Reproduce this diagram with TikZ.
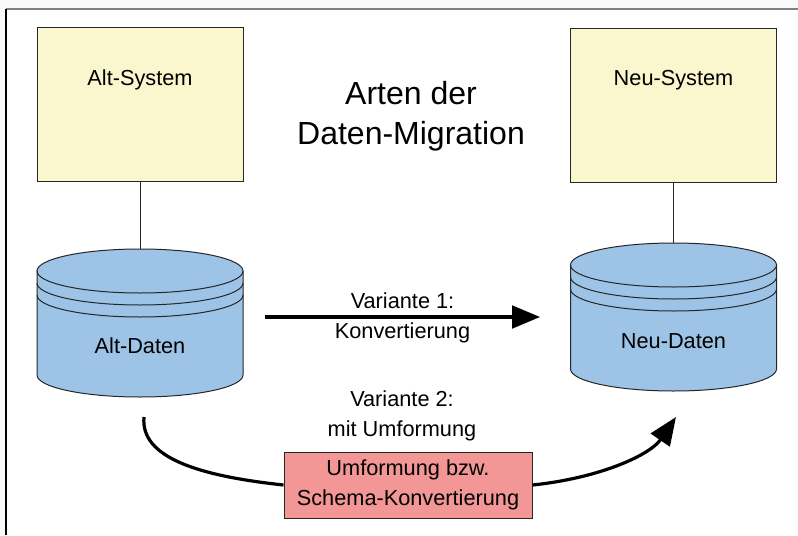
\documentclass[tikz,border=0pt]{standalone}
\usepackage{fontspec}
\setmainfont{Liberation Sans}
\usetikzlibrary{arrows.meta}

\definecolor{systemgelb}{RGB}{250,247,206}
\definecolor{datenblau}{RGB}{157,195,230}
\definecolor{umformrot}{RGB}{243,150,150}
\definecolor{randgrau}{RGB}{248,249,249}

\begin{document}
\begin{tikzpicture}[x=0.75pt, y=-0.75pt,
      every node/.style={align=center, font=\fontsize{16.3}{22.5}\selectfont},
      system/.style={shape=rectangle, draw=black!85, fill=systemgelb, line width=0.75pt,
        inner sep=0pt, minimum width=154.5pt, minimum height=114.75pt},
      umform/.style={shape=rectangle, draw=black!85, fill=umformrot, line width=0.75pt,
        inner sep=0pt, minimum width=186pt, minimum height=49.5pt},
      linie/.style={line width=0.75pt, draw=black!85},
      pfeil/.style={line width=2.4pt, -{Triangle[length=21pt, width=17pt]}},
      datenbank/.pic={
        \fill[datenblau] (-103,0) -- (-103,104) arc (180:0:103 and 22) -- (103,0) arc (0:-180:103 and 22) -- cycle;
        \draw[linie] (-103,0) -- (-103,104) arc (180:0:103 and 22) -- (103,0);
        \draw[linie] (0,0) ellipse (103 and 22);
        \draw[linie] (-103,12) arc (180:0:103 and 22);
        \draw[linie] (-103,24) arc (180:0:103 and 22);
        \coordinate (-oben) at (0,-22);
      }]
  \useasboundingbox (0,0) rectangle (798,535);
  % Rahmen
  \fill[randgrau] (0,0) rectangle (798,535);
  \fill[white] (6,9) rectangle (798,535);
  \draw[gray, line width=1.2pt] (6,9) -- (798,9);
  \draw[black, line width=0.9pt] (6,9) -- (6,535);

  \node[font=\fontsize{24}{30}\selectfont] (titel) at (411,116) {Arten der\\Daten-Migration};

  % Systeme
  \node[system] (altsys) at (140,104.5) {};
  \node (alttext) at (140,80) {Alt-System};
  \node[system] (neusys) at (673.5,105.5) {};
  \node (neutext) at (673.5,80) {Neu-System};

  % Datenbestaende
  \pic (altdb) at (140,271) {datenbank};
  \pic (neudb) at (673.5,265) {datenbank};
  \node (altdaten) at (140,346) {Alt-Daten};
  \node (neudaten) at (673.5,341) {Neu-Daten};

  \draw[linie] (altsys.south) -- (altdb-oben);
  \draw[linie] (neusys.south) -- (neudb-oben);

  % Variante 1
  \coordinate (v1start) at (265,317);
  \coordinate (v1ende) at (540,317);
  \draw[pfeil] (v1start) -- node[yshift=-1pt] {Variante 1:\\Konvertierung} (v1ende);

  % Variante 2
  \node (variante2) at (402,416) {Variante 2:\\mit Umformung};
  \node[umform] (umformung) at (408,485) {Umformung bzw.\\Schema-Konvertierung};
  \coordinate (v2start) at (144,417);
  \coordinate (v2ende) at (676,417);
  \draw[line width=2.4pt] (v2start) .. controls (140,458) and (200,476) .. (umformung.west);
  \draw[pfeil] (umformung.east) .. controls (600,478) and (650,455) .. (v2ende);
\end{tikzpicture}
\end{document}
